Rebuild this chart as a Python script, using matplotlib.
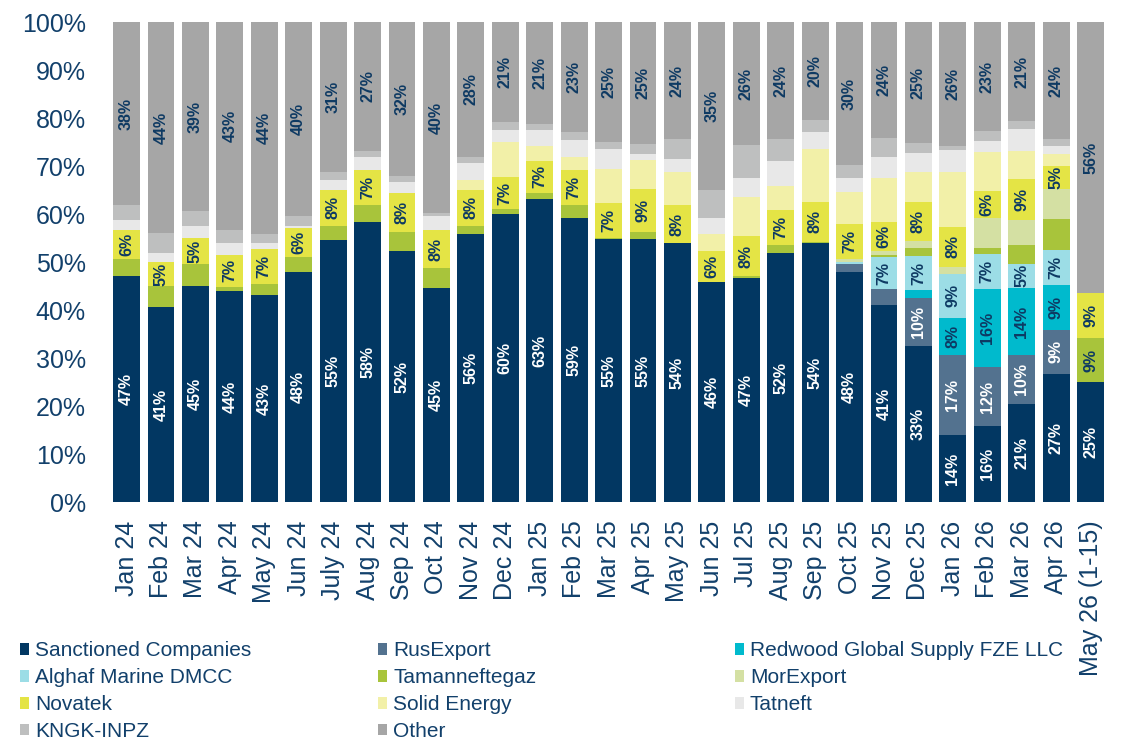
import numpy as np
import matplotlib.pyplot as plt
from matplotlib.patches import Patch

plt.rcParams['font.family'] = ['Liberation Sans', 'DejaVu Sans']

months = ["Jan 24", "Feb 24", "Mar 24", "Apr 24", "May 24", "Jun 24", "July 24",
          "Aug 24", "Sep 24", "Oct 24", "Nov 24", "Dec 24", "Jan 25", "Feb 25",
          "Mar 25", "Apr 25", "May 25", "Jun 25", "Jul 25", "Aug 25", "Sep 25",
          "Oct 25", "Nov 25", "Dec 25", "Jan 26", "Feb 26", "Mar 26", "Apr 26",
          "May 26 (1-15)"]

sanctioned = [47.1, 40.6, 45.1, 44.0, 43.2, 48.0, 54.6, 58.4, 52.3, 44.6, 55.9, 60.0, 63.2, 59.2,
              54.8, 54.9, 54.0, 45.9, 46.7, 51.9, 54.0, 48.0, 41.1, 32.6, 14.0, 15.9, 20.6, 26.7, 25.1]
rusexport = [0, 0, 0, 0, 0, 0, 0, 0, 0, 0, 0, 0, 0, 0,
             0, 0, 0, 0, 0, 0, 0, 1.6, 3.3, 10.0, 16.6, 12.3, 10.0, 9.3, 0]
redwood = [0, 0, 0, 0, 0, 0, 0, 0, 0, 0, 0, 0, 0, 0,
           0, 0, 0, 0, 0, 0, 0, 0, 0, 1.6, 7.8, 16.2, 14.1, 9.2, 0]
alghaf = [0, 0, 0, 0, 0, 0, 0, 0, 0, 0, 0, 0, 0, 0,
          0, 0, 0, 0, 0, 0, 0, 0.4, 6.7, 7.1, 9.2, 7.3, 5.0, 7.3, 0]
tamanneftegaz = [3.6, 4.5, 4.5, 0.9, 2.3, 3.1, 2.9, 3.5, 4.0, 4.2, 1.6, 1.1, 1.2, 2.7,
                 0.2, 1.5, 0, 0, 0.4, 1.7, 0.2, 0, 0.4, 1.7, 0, 1.3, 3.8, 6.6, 9.1]
morexport = [0, 0, 0, 0, 0, 0, 0, 0, 0, 0, 0, 0, 0, 0,
             0, 0, 0, 0, 0, 0, 0, 0.7, 0.8, 1.4, 1.4, 6.2, 5.2, 6.1, 0]
novatek = [6.0, 4.9, 5.4, 6.6, 7.3, 6.0, 7.6, 7.4, 8.1, 7.9, 7.6, 6.6, 6.7, 7.3,
           7.3, 8.9, 7.9, 6.4, 8.4, 7.3, 8.4, 7.2, 6.1, 8.1, 8.4, 5.6, 8.7, 4.8, 9.4]
solid_energy = [0, 0, 0, 0, 0, 0, 0, 0, 0, 0, 2.0, 7.3, 3.1, 2.7,
                7.1, 6.0, 6.9, 3.6, 8.1, 5.0, 11.0, 6.7, 9.1, 6.3, 11.4, 8.2, 5.8, 2.5, 0]
tatneft = [2.1, 2.0, 2.5, 2.5, 1.2, 0.4, 2.0, 2.6, 2.3, 2.9, 3.6, 2.5, 3.3, 3.5,
           4.2, 1.2, 2.7, 3.3, 3.9, 5.2, 3.5, 2.9, 4.4, 3.9, 4.6, 2.2, 4.5, 1.7, 0]
kngk = [3.1, 4.0, 3.1, 2.7, 1.9, 2.1, 1.7, 1.3, 1.2, 0.6, 1.2, 1.7, 1.3, 1.7,
        1.4, 2.1, 4.1, 5.8, 6.9, 4.5, 2.5, 2.7, 4.0, 2.1, 0.8, 2.1, 1.7, 1.4, 0]
other = [38.1, 44.0, 39.4, 43.3, 44.1, 40.4, 31.2, 26.8, 32.1, 39.8, 28.1, 20.8, 21.2, 22.9,
         25.0, 25.4, 24.4, 35.0, 25.6, 24.4, 20.4, 29.8, 24.1, 25.2, 25.8, 22.7, 20.6, 24.4, 56.4]

series = [
    ("Sanctioned Companies", sanctioned, "#023762", "white", 4.5),
    ("RusExport", rusexport, "#53728F", "white", 4.5),
    ("Redwood Global Supply FZE LLC", redwood, "#00BACD", "#0E3A63", 4.5),
    ("Alghaf Marine DMCC", alghaf, "#9CDDE6", "#0E3A63", 4.5),
    ("Tamanneftegaz", tamanneftegaz, "#A8C43B", "#0E3A63", 8.0),
    ("MorExport", morexport, "#D4E0A3", "#0E3A63", None),
    ("Novatek", novatek, "#E4E445", "#0E3A63", 4.5),
    ("Solid Energy", solid_energy, "#F2F0A8", "#0E3A63", None),
    ("Tatneft", tatneft, "#E8E8E8", "#0E3A63", None),
    ("KNGK-INPZ", kngk, "#BEBFBF", "#0E3A63", None),
    ("Other", other, "#A6A6A6", "#0E3A63", 4.5),
]

text_color = "#12406B"

fig = plt.figure(figsize=(11.32, 7.44), dpi=100)
ax = fig.add_axes([0.0966, 0.3246, 0.882, 0.6458])

x = np.arange(len(months))
bottom = np.zeros(len(months))
for name, vals, color, lab_color, thresh in series:
    vals = np.array(vals, dtype=float)
    ax.bar(x, vals, bottom=bottom, width=0.78, color=color, linewidth=0)
    if thresh is not None:
        for i, v in enumerate(vals):
            if v >= thresh:
                ax.text(x[i], bottom[i] + v / 2, f"{v:.0f}%", rotation=90,
                        ha="center", va="center", fontsize=11.5, fontweight="bold",
                        color=lab_color)
    bottom += vals

ax.set_xlim(-0.5, len(months) - 0.5)
ax.set_ylim(0, 100)
ax.set_yticks(np.arange(0, 101, 10))
ax.set_yticklabels([f"{t}%" for t in range(0, 101, 10)])
ax.set_xticks(x)
ax.set_xticklabels(months, rotation=90)
ax.tick_params(axis="both", length=0, labelsize=18, labelcolor=text_color)
ax.tick_params(axis="y", pad=17)
ax.tick_params(axis="x", pad=13)
for s in ax.spines.values():
    s.set_visible(False)

# legend in three columns, filled row by row
handles = [Patch(facecolor=c, edgecolor="none", label=n) for n, _, c, _, _ in series]
col_x = [0.0177, 0.334, 0.649]
for k in range(3):
    fig.legend(handles=handles[k::3], loc="upper left", bbox_to_anchor=(col_x[k], 0.138),
               frameon=False, fontsize=15, labelcolor=text_color, handlelength=0.43,
               handleheight=0.48, handletextpad=0.3, labelspacing=0.38,
               borderpad=0, borderaxespad=0)

fig.savefig("out.png", dpi=100)
